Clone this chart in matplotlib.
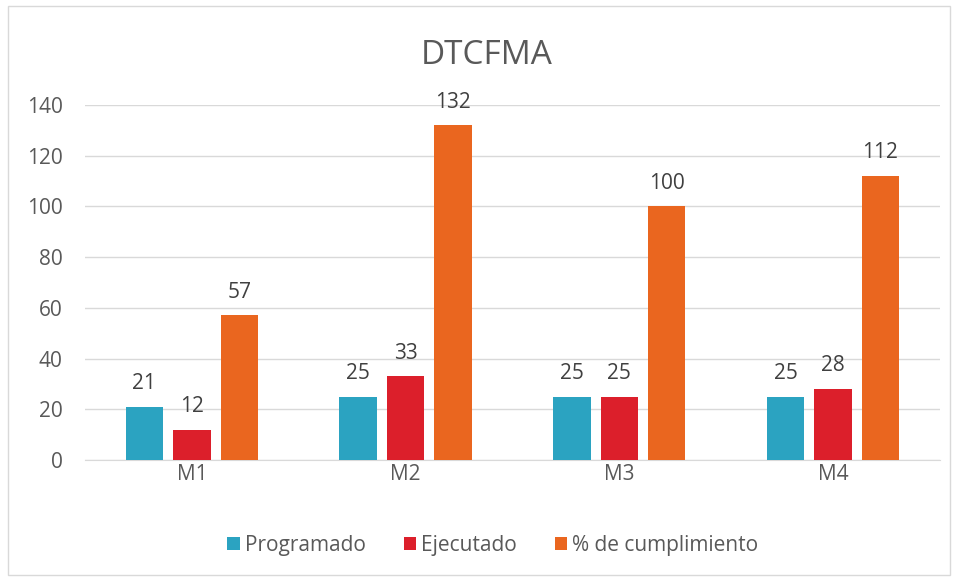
import numpy as np
import matplotlib.pyplot as plt
from matplotlib.patches import Rectangle

categories = ['M1', 'M2', 'M3', 'M4']
programado = [21, 25, 25, 25]
ejecutado = [12, 33, 25, 28]
cumplimiento = [57, 132, 100, 112]
series_names = ['Programado', 'Ejecutado', '% de cumplimiento']
colors = ['#2BA3C1', '#DC1F2B', '#EA661F']

plt.rcParams['font.family'] = ['Open Sans', 'DejaVu Sans']
txt = '#595959'

fig = plt.figure(figsize=(9.59, 5.77), dpi=100)
ax = fig.add_axes([0.0886, 0.2028, 0.8914, 0.6152])

# outer chart border
fig.patches.append(Rectangle((8 / 959, 2 / 577), 942 / 959, 569 / 577,
                             transform=fig.transFigure, fill=False,
                             edgecolor='#D9D9D9', linewidth=1))

x = np.arange(len(categories))
w = 0.175
step = 0.222
for i, (vals, name, c) in enumerate(zip([programado, ejecutado, cumplimiento], series_names, colors)):
    bars = ax.bar(x + (i - 1) * step, vals, w, color=c, label=name, zorder=3)
    for b, v in zip(bars, vals):
        ax.text(b.get_x() + b.get_width() / 2, v + 5, str(v), ha='center', va='bottom',
                fontsize=15, color='#404040')

ax.set_xlim(-0.5, 3.5)
ax.set_ylim(0, 140)
ax.set_yticks(range(0, 141, 20))
ax.set_xticks(x)
ax.set_xticklabels(categories)
ax.yaxis.grid(True, color='#D9D9D9', linewidth=1, zorder=0)
for s in ['top', 'right', 'left']:
    ax.spines[s].set_visible(False)
ax.spines['bottom'].set_color('#D9D9D9')
ax.tick_params(axis='both', length=0, labelsize=15, colors=txt)
ax.tick_params(axis='y', pad=16)
ax.tick_params(axis='x', pad=3)

fig.text(0.508, 0.904, 'DTCFMA', ha='center', va='center', fontsize=24, color=txt)

fig.legend(loc='center', bbox_to_anchor=(0.514, 0.055), ncol=3, frameon=False,
           fontsize=15, labelcolor=txt, handlelength=0.6, handleheight=0.6,
           handletextpad=0.25, columnspacing=1.8)

fig.savefig('out.png', dpi=100)
